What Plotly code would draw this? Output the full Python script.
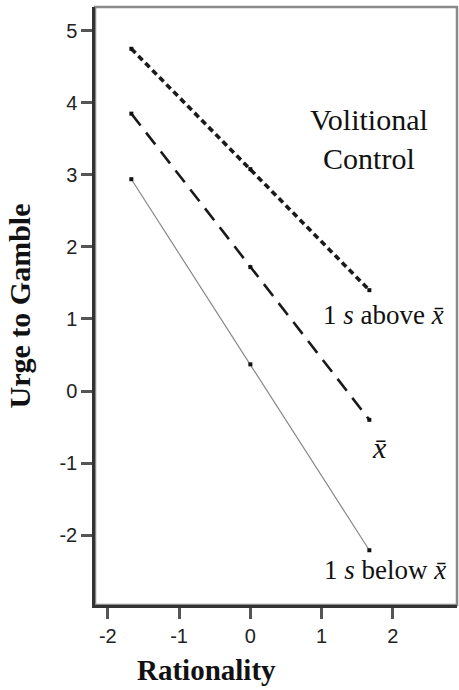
import plotly.graph_objects as go

# Data
rationality = [-1.67, 0.0, 1.67]
above_mean = [4.75, 3.08, 1.40]
at_mean = [3.85, 1.72, -0.40]
below_mean = [2.94, 0.37, -2.21]

x_ticks = [-2, -1, 0, 1, 2]
x_labels = ["-2", "-1", "0", "1", "2"]
y_ticks = [-2, -1, 0, 1, 2, 3, 4, 5]
y_labels = ["-2", "-1", "0", "1", "2", "3", "4", "5"]

fig = go.Figure()

fig.add_trace(go.Scatter(x=rationality, y=above_mean, mode="lines+markers",
                         line=dict(color="#1a1a1a", width=3.6, dash="6px,4px"),
                         marker=dict(symbol="square", size=4, color="#111")))
fig.add_trace(go.Scatter(x=rationality, y=at_mean, mode="lines+markers",
                         line=dict(color="#1a1a1a", width=2.6, dash="15px,9px"),
                         marker=dict(symbol="square", size=4, color="#111")))
fig.add_trace(go.Scatter(x=rationality, y=below_mean, mode="lines+markers",
                         line=dict(color="#888888", width=1.2),
                         marker=dict(symbol="square", size=4, color="#111")))

serif = "Liberation Serif, Times New Roman, serif"

fig.add_shape(type="rect", xref="paper", yref="paper", x0=0, x1=1, y0=0, y1=1,
              line=dict(color="#8a8a8a", width=2.5), layer="below")

ann = [
    dict(x=1.67, y=3.50, text="Volitional<br>Control", font=dict(size=30, family=serif, color="#111"), align="center"),
    dict(x=1.87, y=1.05, text="1 <i>s</i> above <i>x̄</i>", font=dict(size=27, family=serif, color="#111")),
    dict(x=1.81, y=-0.79, text="<i>x̄</i>", font=dict(size=30, family=serif, color="#111")),
    dict(x=1.89, y=-2.48, text="1 <i>s</i> below <i>x̄</i>", font=dict(size=27, family=serif, color="#111")),
]
for a in ann:
    fig.add_annotation(xref="x", yref="y", showarrow=False, **a)

fig.add_annotation(xref="paper", yref="paper", x=0.308, y=-0.108, xanchor="center", yanchor="middle",
                   text="<b>Rationality</b>", showarrow=False,
                   font=dict(size=29, family=serif, color="#111"))

fig.update_layout(
    width=459, height=690,
    margin=dict(l=95, r=2, t=7, b=85),
    paper_bgcolor="white", plot_bgcolor="white",
    showlegend=False,
    font=dict(family="Liberation Sans, Arial, sans-serif", size=20, color="#222"),
)

fig.update_xaxes(range=[-2.18, 2.9], tickvals=x_ticks, ticktext=x_labels, showgrid=False, zeroline=False,
                 showline=True, linecolor="#333", linewidth=2.5,
                 ticks="outside", ticklen=11, tickwidth=2.5, tickcolor="#555")
fig.update_yaxes(range=[-2.97, 5.33], tickvals=y_ticks, ticktext=y_labels, showgrid=False, zeroline=False,
                 showline=True, linecolor="#333", linewidth=2.5,
                 ticks="outside", ticklen=11, tickwidth=2.5, tickcolor="#555",
                 automargin=False,
                 title=dict(text="<b>Urge to Gamble</b>", font=dict(size=30, family=serif, color="#111"), standoff=20))

fig.write_html("out.html", config={"displayModeBar": False},
               post_script="document.body.style.margin='0';")
